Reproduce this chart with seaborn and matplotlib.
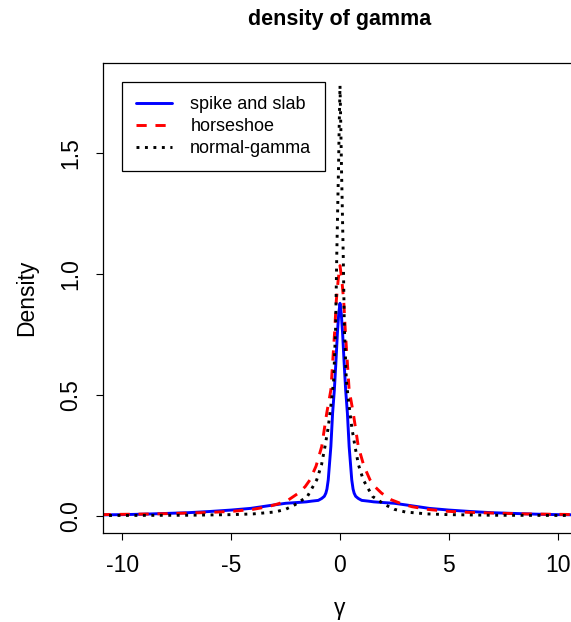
import matplotlib
matplotlib.use("Agg")
import matplotlib.pyplot as plt
import seaborn as sns
import pandas as pd

# ---- data ----
x_ss = [-11, -10, -9, -8, -7, -6, -5, -4.1, -3.2, -2.5, -2.0, -1.55, -1.3, -1.0, -0.84, -0.72,
        -0.65, -0.6, -0.54, -0.42, -0.34, -0.26, -0.19, -0.12, -0.06, 0,
        0.06, 0.12, 0.19, 0.26, 0.34, 0.42, 0.54, 0.6, 0.65, 0.72, 0.84, 1.0, 1.3, 1.55,
        2.0, 2.5, 3.2, 4.1, 5, 6, 7, 8, 9, 10, 11]
y_ss = [0.003, 0.004, 0.006, 0.009, 0.012, 0.017, 0.023, 0.030, 0.042, 0.051, 0.054, 0.057, 0.060,
        0.063, 0.071, 0.080, 0.093, 0.110, 0.148, 0.286, 0.424, 0.520, 0.632, 0.755, 0.835, 0.879,
        0.835, 0.755, 0.632, 0.520, 0.424, 0.286, 0.148, 0.110, 0.093, 0.080, 0.071, 0.063, 0.060,
        0.057, 0.054, 0.051, 0.042, 0.030, 0.023, 0.017, 0.012, 0.009, 0.006, 0.004, 0.003]

x_hs = [-11, -10.3, -8.5, -7.2, -6, -4.9, -4, -3.3, -2.8, -2.37, -1.91, -1.6, -1.38, -1.1, -0.84,
        -0.61, -0.42, -0.25, -0.17, -0.08, 0,
        0.08, 0.17, 0.25, 0.42, 0.61, 0.84, 1.1, 1.38, 1.6, 1.91, 2.37, 2.8, 3.3, 4, 4.9, 6, 7.2,
        8.5, 10.3, 11]
y_hs = [0.004, 0.005, 0.007, 0.010, 0.013, 0.018, 0.026, 0.037, 0.050, 0.065, 0.093, 0.120, 0.148,
        0.205, 0.286, 0.424, 0.520, 0.755, 0.890, 0.980, 1.035,
        0.980, 0.890, 0.755, 0.520, 0.424, 0.286, 0.205, 0.148, 0.120, 0.093, 0.065, 0.050, 0.037,
        0.026, 0.018, 0.013, 0.010, 0.007, 0.005, 0.004]

x_ng = [-11, -9, -7, -5, -4, -3, -2.5, -2.07, -1.5, -1.07, -0.85, -0.69, -0.55, -0.46, -0.36,
        -0.29, -0.2, -0.15, -0.1, -0.07, -0.035, 0,
        0.035, 0.07, 0.1, 0.15, 0.2, 0.29, 0.36, 0.46, 0.55, 0.69, 0.85, 1.07, 1.5, 2.07, 2.5, 3,
        4, 5, 7, 9, 11]
y_ng = [0.0005, 0.001, 0.0015, 0.004, 0.007, 0.015, 0.026, 0.045, 0.079, 0.148, 0.210, 0.286,
        0.360, 0.424, 0.500, 0.562, 0.780, 1.070, 1.300, 1.430, 1.620, 1.780,
        1.620, 1.430, 1.300, 1.070, 0.780, 0.562, 0.500, 0.424, 0.360, 0.286, 0.210, 0.148, 0.079,
        0.045, 0.026, 0.015, 0.007, 0.004, 0.0015, 0.001, 0.0005]

labels = ["spike and slab", "horseshoe", "normal-gamma"]
x_ticks = [-10, -5, 0, 5, 10]
y_ticks = [0.0, 0.5, 1.0, 1.5]

sns.set_style("ticks")
plt.rcParams["font.family"] = ["Liberation Sans", "DejaVu Sans"]
plt.rcParams["text.color"] = "black"
plt.rcParams["axes.labelcolor"] = "black"
plt.rcParams["xtick.color"] = "black"
plt.rcParams["ytick.color"] = "black"

W, H = 571, 622
fig = plt.figure(figsize=(W / 100, H / 100), dpi=100)
L, R, T, B = 103, 577, 63, 533
ax = fig.add_axes([L / W, (H - B) / H, (R - L) / W, (B - T) / H])

df_ss = pd.DataFrame({"x": x_ss, "y": y_ss})
df_hs = pd.DataFrame({"x": x_hs, "y": y_hs})
df_ng = pd.DataFrame({"x": x_ng, "y": y_ng})

sns.lineplot(data=df_ss, x="x", y="y", ax=ax, color="#0000FF", lw=2.1, label=labels[0],
             sort=False, estimator=None)
sns.lineplot(data=df_hs, x="x", y="y", ax=ax, color="#FF0000", lw=2.1, label=labels[1],
             sort=False, estimator=None, dashes=False)
sns.lineplot(data=df_ng, x="x", y="y", ax=ax, color="black", lw=2.1, label=labels[2],
             sort=False, estimator=None, dashes=False)
lines = ax.get_lines()
lines[1].set_dashes([3.5, 3.0])
lines[2].set_dashes([1.0, 1.9])

ax.set_xlim(-10.89, 10.89)
ax.set_ylim(-0.072, 1.874)
ax.set_xticks(x_ticks)
ax.set_xticklabels([str(t) for t in x_ticks])
ax.set_yticks(y_ticks)
ax.set_yticklabels([f"{t:.1f}" for t in y_ticks])
ax.tick_params(axis="both", labelsize=16.5, length=5, width=0.8, color="black",
               labelcolor="black", direction="out", pad=10)
ax.tick_params(axis="y", labelrotation=90)
for lab in ax.get_yticklabels():
    lab.set_va("center")
for s in ax.spines.values():
    s.set_visible(True)
    s.set_color("black")
    s.set_linewidth(0.9)
ax.set_xlabel("")
ax.set_ylabel("")

fig.text(27 / W, 1 - 298 / H, "Density", rotation=90, ha="center", va="center",
         fontsize=16.5, color="black")
fig.text(340 / W, 1 - 608 / H, "γ", ha="center", va="center", fontsize=16.5, color="black")
fig.text(340 / W, 1 - 20 / H, "density of gamma", ha="center", va="center",
         fontsize=15.5, fontweight="bold", color="black")

leg = ax.legend(loc="upper left", bbox_to_anchor=(122 / W, 1 - 82 / H),
                bbox_transform=fig.transFigure, borderaxespad=0, fontsize=13,
                frameon=True, fancybox=False, framealpha=1, edgecolor="black",
                handlelength=2.0, handletextpad=1.0, labelspacing=0.27, borderpad=0.78)
leg.get_frame().set_linewidth(0.9)
for t in leg.get_texts():
    t.set_color("black")

fig.savefig("out.png", dpi=100)
